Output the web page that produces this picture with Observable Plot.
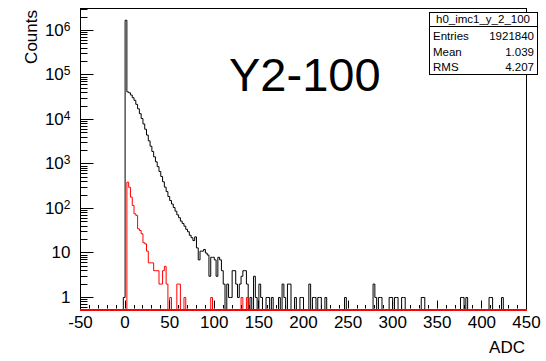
<!DOCTYPE html>
<html>
<head>
<meta charset="utf-8">
<script src="https://cdn.jsdelivr.net/npm/d3@7"></script>
<script src="https://cdn.jsdelivr.net/npm/@observablehq/plot@0.6"></script>
<style>
  html, body { margin: 0; padding: 0; background: #fff; }
  #chart svg { display: block; }
</style>
</head>
<body>
<div id="chart"></div>
<script>
// ---- histogram contents (bin left edge in ADC, bin width 2) ----
const blackBins = [-2, 0, 2, 4, 6, 8, 10, 12, 14, 16, 18, 20, 22, 24, 26, 28, 30, 32, 34, 36, 38, 40,
  42, 44, 46, 48, 50, 52, 54, 56, 58, 60, 62, 64, 66, 68, 70, 72, 74, 76, 78, 80, 82, 84, 86, 88,
  90, 92, 94, 96, 98, 100, 102, 104, 106, 108, 110, 114, 116, 118, 120, 122, 124, 126, 128, 130,
  132, 134, 136, 140, 144, 146, 150, 152, 158, 160, 164, 172, 176, 178, 182, 184, 190, 196, 198,
  206, 210, 212, 216, 218, 224, 246, 278, 280, 284, 286, 296, 298, 302, 304, 310, 312, 332, 334,
  376, 378, 382, 408, 410, 422];
const blackCounts = [1, 1700000, 41700, 39800, 35500, 30900, 26900, 21900, 17400, 13500, 10500, 7940,
  6030, 4470, 3310, 2510, 1910, 1450, 1120, 871, 676, 525, 398, 302, 240, 186, 151, 126, 105, 87,
  72, 62, 52, 46, 40, 34, 30, 25, 22, 19, 23, 13, 7, 11, 11, 12, 10, 9, 3, 8, 8, 7, 3, 8, 7, 4, 2,
  2, 1, 1, 4, 4, 2, 1, 2, 3, 4, 4, 2, 1, 3, 1, 2, 1, 1, 1, 1, 1, 2, 1, 2, 2, 1, 1, 1,
  2, 1, 1, 1, 1, 1, 1, 2, 1, 1, 1, 1, 1, 1, 1, 1, 1, 1, 1,
  1, 1, 1, 1, 1, 1];

const redBins = [2, 4, 6, 8, 10, 12, 14, 16, 18, 20, 22, 24, 26, 28, 30, 32, 34, 36, 38, 40, 42, 44,
  46, 50, 58, 60, 66, 96, 130, 136];
const redCounts = [390, 300, 180, 117, 76, 70, 35, 32, 27, 17, 16, 11, 6, 6, 6, 4, 4, 4, 2, 2, 4, 5,
  2, 1, 2, 2, 1, 1, 1, 1];

// ---- axes ----
const xTicks = [-50, 0, 50, 100, 150, 200, 250, 300, 350, 400, 450];
const xMinorTicks = d3.range(-50, 451, 10);
const yTicks = [1, 10, 100, 1e3, 1e4, 1e5, 1e6];
const yTickBases = ["1", "10", "10", "10", "10", "10", "10"];
const yTickExponents = ["", "", "2", "3", "4", "5", "6"];
const yMinorTicks = [0.6, 0.7, 0.8, 0.9, 2, 3, 4, 5, 6, 7, 8, 9, 20, 30, 40, 50, 60, 70, 80, 90,
  200, 300, 400, 500, 600, 700, 800, 900, 2e3, 3e3, 4e3, 5e3, 6e3, 7e3, 8e3, 9e3,
  2e4, 3e4, 4e4, 5e4, 6e4, 7e4, 8e4, 9e4, 2e5, 3e5, 4e5, 5e5, 6e5, 7e5, 8e5, 9e5, 2e6, 3e6];
const xLabel = "ADC";
const yLabel = "Counts";
const bigLabel = "Y2-100";

// ---- stats box ----
const histName = "h0_imc1_y_2_100";
const statNames = ["Entries", "Mean", "RMS"];
const statValues = ["1921840", "1.039", "4.207"];

(function () {
const xMin = -50, xMax = 450, binWidth = 2;
const yMin = 0.537, yMax = 3.12e6;

function fillHist(bins, counts) {
  const m = new Map(bins.map((b, i) => [b, counts[i]]));
  const out = [];
  for (let x = xMin; x < xMax; x += binWidth) out.push({x, y: Math.max(m.get(x) ?? 0, yMin)});
  out.push({x: xMax, y: out[out.length - 1].y});
  return out;
}
const blackData = fillHist(blackBins, blackCounts);
const redData = fillHist(redBins, redCounts);
const yIndex = new Map(yTicks.map((t, i) => [t, i]));

const FONT = "'Liberation Sans', Arial, Helvetica, sans-serif";

const plot = Plot.plot({
  width: 546,
  height: 361,
  marginLeft: 80,
  marginRight: 20,
  marginTop: 8,
  marginBottom: 52,
  style: {fontFamily: FONT, fontSize: "17px", background: "white", color: "black"},
  x: {domain: [xMin, xMax]},
  y: {type: "log", domain: [yMin, yMax]},
  marks: [
    Plot.frame({stroke: "black"}),
    Plot.line(blackData, {x: "x", y: "y", curve: "step-after", stroke: "black", strokeWidth: 1}),
    Plot.line(redData, {x: "x", y: "y", curve: "step-after", stroke: "#ff0000", strokeWidth: 1}),
    Plot.axisX({ticks: xTicks, tickSize: 0, tickPadding: 6, tickFormat: d => String(d), label: null}),
    Plot.axisY({ticks: yTicks, tickSize: 0, tickPadding: 10,
      tickFormat: d => yTickBases[yIndex.get(d)] + yTickExponents[yIndex.get(d)], label: null})
  ]
});

document.getElementById("chart").appendChild(plot);

const svg = d3.select(plot);
const sx = plot.scale("x"), sy = plot.scale("y");
const pxLeft = sx.apply(xMin), pxRight = sx.apply(xMax);
const pxBottom = sy.apply(yMin);

// y tick labels: base with raised exponent, as ROOT prints them
svg.selectAll('g[aria-label="y-axis tick label"] text').each(function (d, i) {
  const t = d3.select(this);
  const idx = yTicks.findIndex((v, j) => yTickBases[j] + yTickExponents[j] === t.text());
  if (idx < 0 || !yTickExponents[idx]) return;
  t.text(yTickBases[idx]);
  t.append("tspan").attr("dy", "-0.42em").attr("font-size", 12).text(yTickExponents[idx]);
});

// zero level of the red histogram, drawn along the frame bottom as ROOT does
svg.append("rect").attr("x", pxLeft).attr("width", pxRight - pxLeft + 1)
  .attr("y", Math.round(pxBottom)).attr("height", 2)
  .attr("fill", "#ff0000").attr("stroke", "none");

// inward ticks, ROOT style
const tg = svg.append("g").attr("stroke", "black").attr("stroke-width", 1).attr("transform", "translate(0.5,0.5)");
xMinorTicks.forEach(v => {
  const major = xTicks.includes(v);
  const x = Math.round(sx.apply(v));
  tg.append("line").attr("x1", x).attr("x2", x).attr("y1", pxBottom - 1).attr("y2", pxBottom - (major ? 9 : 4.5));
});
yTicks.concat(yMinorTicks).forEach(v => {
  const major = yTicks.includes(v);
  const y = Math.round(sy.apply(v));
  tg.append("line").attr("x1", pxLeft).attr("x2", pxLeft + (major ? 13 : 7)).attr("y1", y).attr("y2", y);
});

// axis titles
svg.append("text").attr("x", 525).attr("y", 353).attr("text-anchor", "end")
  .attr("font-family", FONT).attr("font-size", 17).attr("fill", "black").text(xLabel);
svg.append("text").attr("transform", "translate(37,10) rotate(-90)").attr("text-anchor", "end")
  .attr("font-family", FONT).attr("font-size", 17).attr("fill", "black").text(yLabel);

// big label
svg.append("text").attr("x", 229).attr("y", 91).attr("text-anchor", "start")
  .attr("font-family", FONT).attr("font-size", 47).attr("fill", "black").text(bigLabel);

// stats box
const bx = 429, by = 12, bw = 108, bh = 62;
const sg = svg.append("g").attr("font-family", FONT).attr("font-size", 11.5).attr("fill", "black");
sg.append("rect").attr("x", bx + 0.5).attr("y", by + 0.5).attr("width", bw).attr("height", bh)
  .attr("fill", "white").attr("stroke", "black");
sg.append("line").attr("x1", bx).attr("x2", bx + bw).attr("y1", by + 14.5).attr("y2", by + 14.5).attr("stroke", "black");
sg.append("text").attr("x", bx + bw / 2).attr("y", by + 11).attr("text-anchor", "middle").text(histName);
statNames.forEach((n, i) => {
  const yy = by + 28 + i * 15.5;
  sg.append("text").attr("x", bx + 4).attr("y", yy).attr("text-anchor", "start").text(n);
  sg.append("text").attr("x", bx + bw - 3).attr("y", yy).attr("text-anchor", "end").text(statValues[i]);
});
})();
</script>
</body>
</html>
